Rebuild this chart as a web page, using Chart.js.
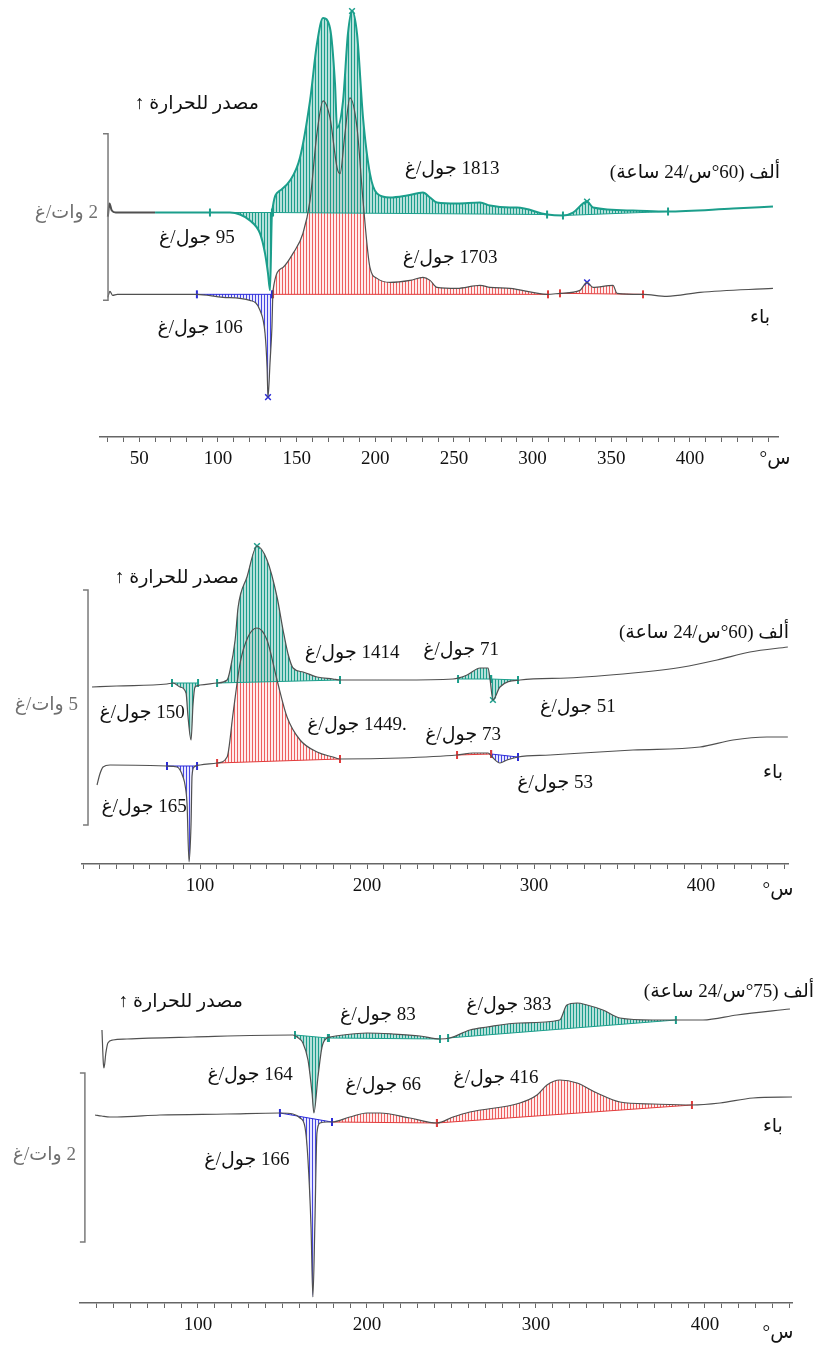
<!DOCTYPE html>
<html lang="ar">
<head>
<meta charset="utf-8">
<script src="https://cdn.jsdelivr.net/npm/chart.js@4.4.0/dist/chart.umd.min.js"></script>
<style>
html, body { margin: 0; padding: 0; background: #fff; }
body { width: 821px; height: 1349px; position: relative; overflow: hidden; }
.panel { position: absolute; left: 0; width: 821px; }
</style>
</head>
<body>
<div class="panel" style="top:0;height:480px"><canvas id="dsc1"></canvas></div>
<div class="panel" style="top:500px;height:407px"><canvas id="dsc2"></canvas></div>
<div class="panel" style="top:940px;height:406px"><canvas id="dsc3"></canvas></div>
<script>
// DSC traces: [temperature °C, heat flow (a.u., exo up)]
// A = ألف (aged), B = باء

// ---- panel 1 : 60°C / 24 h ----
const p1CurveA = [[30.0,221],[31.0,234],[32.5,227],[35,225],[60,225],[86,225],[100,225],[107.6,225],[114,223],[120.3,217],[126.7,204],[129.9,184],[131.8,164],[133.1,147],[134.3,224],[139.4,247],[145.8,257],[152.1,280],[158.5,337],[162.9,394],[166.8,420],[171.2,410],[174.4,354],[175.7,310],[179.5,337],[182.6,404],[185.2,427],[188.4,404],[192.2,320],[196.6,264],[201.1,244],[209.3,240],[220.2,242],[230.3,245],[234.8,240],[239.2,235],[251.9,234],[266.6,235],[272.9,232],[285.6,230],[290.1,230],[309.2,223],[319.3,222],[325.7,225],[334.6,236],[338.4,230],[363.8,227],[385.4,226],[427.4,229],[452.8,231]];
const p1CurveB = [[30.0,140],[31.3,146],[33,142],[36,143],[60,143],[86.6,143],[103.2,140],[120.3,137],[126.7,127],[129.9,104],[131.2,70],[131.8,40],[133.1,75],[134.3,110],[135.0,147],[141.3,170],[147.7,184],[154.0,204],[158.5,237],[162.9,304],[166.8,337],[171.2,320],[175.7,270],[177.6,264],[180.7,304],[183.9,340],[188.4,310],[192.2,237],[196.6,170],[201.1,159],[209.3,155],[222.1,157],[230.3,160],[234.8,157],[239.2,150],[251.9,149],[266.6,152],[272.9,150],[285.6,149],[309.2,143],[317.4,144],[330.1,147],[334.6,155],[338.4,150],[351.1,152],[353.7,144],[370.2,143],[385.4,141],[406.4,145],[452.8,149]];
// integration limits: [T start, baseline start, T end, baseline end]
const p1LimitsA = [[94.9,225,134.3,225],[135.0,225,309.2,223],[319.3,222,386.1,226]];
const p1LimitsB = [[86.6,143,134.3,143],[135.0,143,309.8,143],[317.4,144,370.2,143]];
const p1KindsB = ['endo','exo','exo'];
const p1PeaksA = [[185.2,427],[334.6,236]];
const p1PeaksB = [[131.8,40],[334.6,155]];
const p1Notes = [['مصدر للحرارة ↑',86.6,334],['1813 جول/غ',248.8,269],['ألف (60°س/24 ساعة)',403.2,265],['95 جول/غ',86.6,199],['1703 جول/غ',247.5,179],['106 جول/غ',88.6,109],['باء',444.6,119]];
const p1TickLabels = [50,100,150,200,250,300,350,400];

// ---- panel 2 : 60°C / 24 h ----
const p2CurveA = [[35.3,177],[50,178],[80.2,180],[83.8,181],[88.0,177],[91.6,171],[92.8,147],[94.6,124],[95.8,160],[97.0,177],[100,179],[110.2,181],[116.2,184],[118.0,194],[121.0,224],[122.8,257],[128.1,287],[134.1,318],[140.1,304],[146.1,267],[149.7,234],[152.7,210],[155.7,196],[161.7,192],[170.1,187],[179.6,185],[183.8,184],[219.8,184],[251.5,185],[259.9,189],[267.7,196],[272.5,196],[273.7,184],[275.4,164],[279.6,177],[291.6,184],[319.8,186],[359.3,191],[389.2,197],[409.6,204],[429.3,212],[452.0,217]];
const p2CurveB = [[38.3,79],[40.0,90],[41.9,97],[46.1,99],[80.2,98],[86.2,97],[88.0,94],[89.8,87],[91.0,79],[92.2,60],[93.4,2],[94.6,40],[95.2,88],[96.4,97],[100,99],[110.2,101],[116.2,107],[119.8,151],[124.0,201],[128.7,227],[134.1,236],[140.1,224],[146.1,184],[152.1,147],[159.9,124],[170.1,112],[179.6,107],[183.8,105],[219.8,106],[253.9,109],[263.5,111],[272.5,111],[274.9,107],[279.6,101],[283.8,104],[290.4,107],[309.6,109],[359.3,114],[399.4,117],[419.2,124],[439.5,127],[452.0,127]];
const p2LimitsA = [[83.2,181,98.8,181],[110.2,181,183.8,184],[254.5,185,274.3,185],[274.3,185,290.4,184]];
const p2LimitsB = [[80.2,98,98.2,98],[110.2,101,183.8,105],[253.9,109,274.3,110],[274.3,110,290.4,107]];
const p2KindsB = ['endo','exo','exo','endo'];
const p2PeaksA = [[134.1,318],[275.4,164]];
const p2PeaksB = [];
const p2Notes = [['مصدر للحرارة ↑',86.2,286],['ألف (60°س/24 ساعة)',401.8,231],['1414 جول/غ',191.0,211],['150 جول/غ',65.3,151],['.1449 جول/غ',194.0,139],['71 جول/غ',256.3,214],['51 جول/غ',326.3,157],['73 جول/غ',257.5,129],['53 جول/غ',312.6,81],['165 جول/غ',66.5,57],['باء',443.1,91]];
const p2TickLabels = [100,200,300,400];

// ---- panel 3 : 75°C / 24 h ----
const p3CurveA = [[43.2,273],[44.0,240],[44.4,235],[45.5,250],[46.7,260],[49.7,263],[58.0,264],[97.0,266],[156.2,268],[158.6,266],[162.1,260],[165.1,243],[167.5,210],[168.6,190],[171.0,226],[173.4,256],[176.3,265],[178.1,266],[185.8,268],[200.0,270],[215.4,269],[231.4,267],[243.2,264],[249.1,265],[260.9,273],[271.0,276],[290.5,280],[314.0,283],[318.3,298],[324.3,300],[330.2,298],[339.6,293],[349.7,285],[369.2,283],[381.1,283],[398.8,283],[418.9,288],[450.3,294]];
const p3CurveB = [[39.1,188],[43.0,187],[47.9,186],[52.1,186],[77.5,188],[117.2,189],[148.5,190],[156.2,189],[160.4,185],[163.3,176],[165.1,143],[166.9,76],[168.0,6],[169.2,80],[170.4,170],[172.2,180],[176.3,181],[179.3,181],[189.9,186],[200.0,190],[207.7,190],[225.4,185],[241.4,180],[250.9,186],[260.9,191],[290.5,200],[300.6,208],[306.5,218],[314.2,223],[324.3,220],[336.1,210],[349.7,201],[369.2,199],[392.3,198],[408.9,200],[428.4,205],[451.5,206]];
const p3LimitsA = [[157.4,268,176.9,265],[177.5,265,243.2,264],[248.0,265,382.8,283]];
const p3LimitsB = [[148.5,190,179.3,181],[179.3,181,241.4,180],[241.4,180,392.3,198]];
const p3KindsB = ['endo','exo','exo'];
const p3PeaksA = [];
const p3PeaksB = [];
const p3Notes = [['مصدر للحرارة ↑',89.9,301],['83 جول/غ',206.5,288],['383 جول/غ',284.0,298],['ألف (75°س/24 ساعة)',414.2,311],['164 جول/غ',130.8,228],['66 جول/غ',209.5,218],['416 جول/غ',276.3,225],['166 جول/غ',129.0,143],['باء',440.2,176]];
const p3TickLabels = [100,200,300,400];

const TEAL = '#1b9e8b', RED = '#e23b3b', BLUE = '#2b2bd8', GREY = '#505050';

function hatch(line, tint) {
  const c = document.createElement('canvas');
  c.width = 3; c.height = 3;
  const g = c.getContext('2d');
  g.fillStyle = tint; g.fillRect(0, 0, 3, 3);
  g.fillStyle = line; g.fillRect(0, 0, 1, 3);
  return g.createPattern(c, 'repeat');
}
const STYLE = {
  teal: {line: TEAL, fill: hatch('rgba(27,158,139,1)', 'rgba(27,158,139,0.32)')},
  exo: {line: RED, fill: hatch('rgba(232,60,60,0.8)', 'rgba(255,200,200,0.35)')},
  endo: {line: BLUE, fill: hatch('rgba(40,40,220,0.85)', 'rgba(180,180,255,0.3)')}
};

const xy = arr => arr.map(([x, y]) => ({x, y}));
const FONT = '"Liberation Serif", "DejaVu Sans", serif';

function notesPlugin(p) {
  return {
    id: 'notes',
    afterDraw(chart) {
      const {ctx, scales: {x, y}} = chart;
      ctx.save();
      ctx.direction = 'rtl';
      ctx.textBaseline = 'middle';
      ctx.font = '19px ' + FONT;
      ctx.textAlign = 'center';
      ctx.fillStyle = '#111';
      p.notes.forEach(([t, tx, ty]) => ctx.fillText(t, x.getPixelForValue(tx), y.getPixelForValue(ty)));
      // scale bar
      const [bt, b0, b1] = p.bracket;
      const bx = x.getPixelForValue(bt), y0 = y.getPixelForValue(b0), y1 = y.getPixelForValue(b1);
      ctx.strokeStyle = '#7a7a7a'; ctx.lineWidth = 1.5;
      ctx.beginPath();
      ctx.moveTo(bx - 5, y1); ctx.lineTo(bx, y1); ctx.lineTo(bx, y0); ctx.lineTo(bx - 5, y0);
      ctx.stroke();
      ctx.fillStyle = '#707070';
      ctx.textAlign = 'right';
      ctx.fillText(p.scaleText, x.getPixelForValue(p.scalePos[0]), y.getPixelForValue(p.scalePos[1]));
      // unit
      ctx.direction = 'ltr';
      ctx.textAlign = 'center';
      ctx.fillStyle = '#111';
      ctx.fillText('°س', x.getPixelForValue(p.unitPos[0]), y.getPixelForValue(p.unitPos[1]));
      ctx.restore();
    }
  };
}

function build(id, p) {
  const ds = [
    {data: xy(p.a), borderColor: p.aColor, borderWidth: p.aWidth, pointRadius: 0, fill: false, order: 0,
     cubicInterpolationMode: 'monotone',
     segment: {borderColor: c => (p.aGreyBelow && c.p1.parsed.x < p.aGreyBelow) ? GREY : undefined}},
    {data: xy(p.b), borderColor: GREY, borderWidth: 1.2, pointRadius: 0, fill: false, order: 0, cubicInterpolationMode: 'monotone'}
  ];
  const addLimits = (limits, curve, kinds) => limits.forEach(([t0, b0, t1, b1], i) => {
    const s = STYLE[kinds ? kinds[i] : 'teal'];
    ds.push({
      data: [{x: t0, y: b0}, {x: t1, y: b1}],
      borderColor: s.line, borderWidth: 1, backgroundColor: s.fill, fill: curve, order: 1,
      pointStyle: 'line', pointRotation: 90, pointRadius: 4, pointBorderWidth: 2, pointBorderColor: s.line
    });
  });
  addLimits(p.limA, 0, null);
  addLimits(p.limB, 1, p.kindsB);
  const addPeaks = (pts, color) => pts.length && ds.push({
    data: xy(pts), showLine: false, fill: false, order: 0,
    pointStyle: 'crossRot', pointRadius: 4, pointBorderWidth: 1.5, pointBorderColor: color, borderColor: color
  });
  addPeaks(p.peaksA, TEAL);
  addPeaks(p.peaksB, BLUE);

  new Chart(document.getElementById(id), {
    type: 'line',
    data: {datasets: ds},
    options: {
      responsive: true, maintainAspectRatio: false, animation: false, events: [],
      layout: {padding: {left: p.left, right: 821 - p.right, top: p.top, bottom: 0}},
      plugins: {legend: {display: false}, tooltip: {enabled: false}},
      scales: {
        x: {
          type: 'linear', min: p.tmin, max: p.tmax,
          afterBuildTicks: s => {
            s.ticks = [];
            for (let v = Math.ceil(s.min / 10) * 10; v <= s.max; v += 10) s.ticks.push({value: v});
          },
          afterFit: s => { s.height = 43; },
          ticks: {
            autoSkip: false, maxRotation: 0, padding: 6, color: '#111',
            font: {family: 'Liberation Serif', size: 19},
            callback: v => p.tickLabels.includes(v) ? String(v) : ''
          },
          grid: {drawOnChartArea: false, drawTicks: true, tickLength: 5, color: '#666'},
          border: {display: true, color: '#666', width: 1.5}
        },
        y: {display: false, min: 0, max: p.ymax}
      }
    },
    plugins: [notesPlugin(p)]
  });
}

build('dsc1', {
  a: p1CurveA, b: p1CurveB, aColor: TEAL, aWidth: 2, aGreyBelow: 68,
  limA: p1LimitsA, limB: p1LimitsB, kindsB: p1KindsB, peaksA: p1PeaksA, peaksB: p1PeaksB,
  notes: p1Notes, tickLabels: p1TickLabels,
  tmin: 25, tmax: 456, ymax: 432, left: 100, right: 778, top: 5,
  bracket: [30.1, 137, 304], scaleText: '2 وات/غ', scalePos: [23.7, 225], unitPos: [454.1, -22]
});
build('dsc2', {
  a: p2CurveA, b: p2CurveB, aColor: GREY, aWidth: 1.2,
  limA: p2LimitsA, limB: p2LimitsB, kindsB: p2KindsB, peaksA: p2PeaksA, peaksB: p2PeaksB,
  notes: p2Notes, tickLabels: p2TickLabels,
  tmin: 29.3, tmax: 452.1, ymax: 344, left: 82, right: 788, top: 20,
  bracket: [32.9, 39, 274], scaleText: '5 وات/غ', scalePos: [26.9, 159], unitPos: [446.1, -26]
});
build('dsc3', {
  a: p3CurveA, b: p3CurveB, aColor: GREY, aWidth: 1.2,
  limA: p3LimitsA, limB: p3LimitsB, kindsB: p3KindsB, peaksA: p3PeaksA, peaksB: p3PeaksB,
  notes: p3Notes, tickLabels: p3TickLabels,
  tmin: 30.2, tmax: 451.5, ymax: 343, left: 80, right: 792, top: 20,
  bracket: [33.1, 61, 230], scaleText: '2 وات/غ', scalePos: [27.8, 148], unitPos: [443.2, -30]
});
</script>
</body>
</html>
